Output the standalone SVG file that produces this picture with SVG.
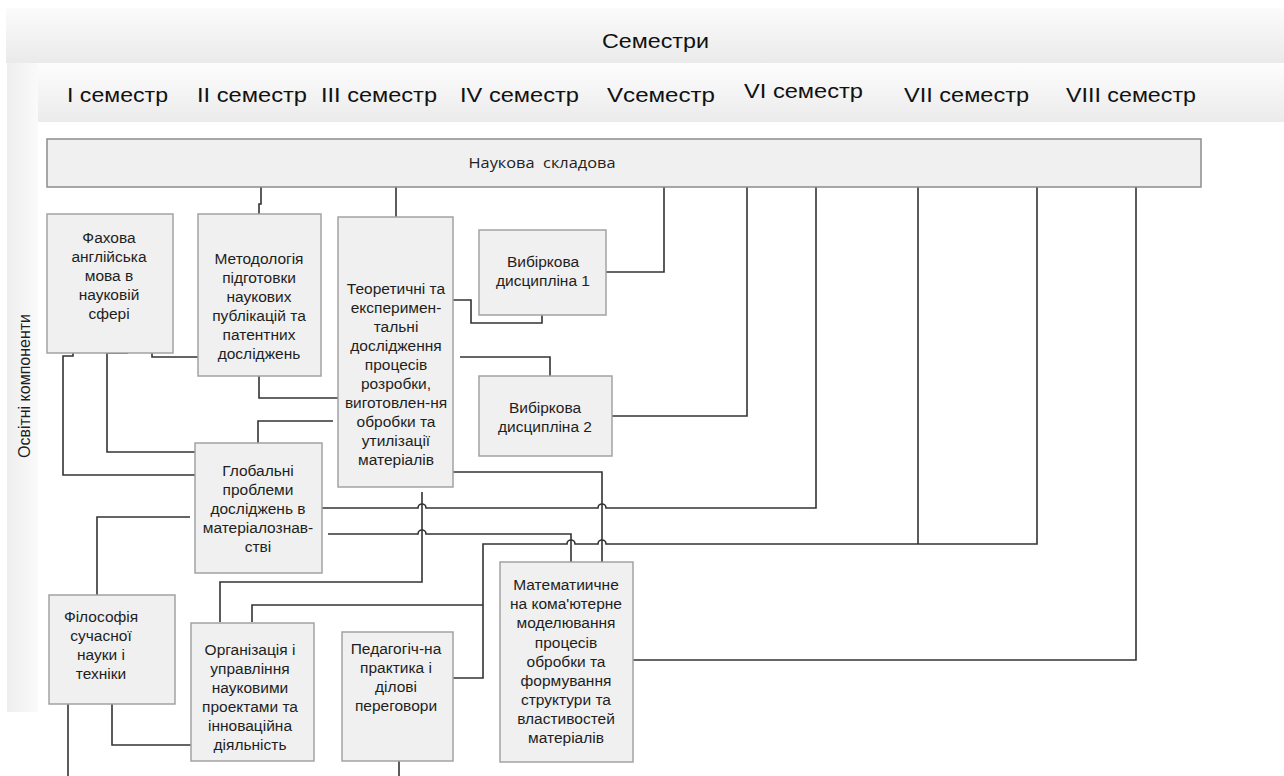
<svg xmlns="http://www.w3.org/2000/svg" width="1284" height="776" viewBox="0 0 1284 776">
<defs>
<linearGradient id="gTop" x1="0" y1="0" x2="0" y2="1"><stop offset="0" stop-color="#fbfbfb"/><stop offset="1" stop-color="#eaeaea"/></linearGradient>
<linearGradient id="gSem" x1="0" y1="0" x2="0" y2="1"><stop offset="0" stop-color="#fdfdfd"/><stop offset="1" stop-color="#ebebeb"/></linearGradient>
<linearGradient id="gLeft" x1="0" y1="0" x2="1" y2="0"><stop offset="0" stop-color="#eeeeee"/><stop offset="1" stop-color="#fafafa"/></linearGradient>
<style>
.box{fill:#f0f0f0;stroke:#a3a3a3;stroke-width:1.5}
.t{font-family:"Liberation Sans",Arial,sans-serif;font-size:15.5px;fill:#1e1e1e;text-anchor:middle}
.sem{font-family:"Liberation Sans",Arial,sans-serif;font-size:20px;fill:#111}
.c{fill:none;stroke:#333;stroke-width:1.6}
</style>
</defs>
<rect width="1284" height="776" fill="#fff"/>
<g id="header">
<rect x="6" y="8" width="1278" height="55" fill="url(#gTop)"/>
<text class="sem" x="602" y="48" textLength="107" lengthAdjust="spacingAndGlyphs">Семестри</text>
</g>
<g id="semesters">
<rect x="38" y="63" width="1246" height="59" fill="url(#gSem)"/>
<text class="sem" x="67" y="102" textLength="101" lengthAdjust="spacingAndGlyphs">I семестр</text>
<text class="sem" x="197" y="102" textLength="110" lengthAdjust="spacingAndGlyphs">II семестр</text>
<text class="sem" x="321" y="102" textLength="116" lengthAdjust="spacingAndGlyphs">III семестр</text>
<text class="sem" x="460" y="102" textLength="119" lengthAdjust="spacingAndGlyphs">IV семестр</text>
<text class="sem" x="607" y="102" textLength="108" lengthAdjust="spacingAndGlyphs">Vсеместр</text>
<text class="sem" x="744" y="98" textLength="119" lengthAdjust="spacingAndGlyphs">VI семестр</text>
<text class="sem" x="904" y="102" textLength="125" lengthAdjust="spacingAndGlyphs">VII семестр</text>
<text class="sem" x="1066" y="102" textLength="130" lengthAdjust="spacingAndGlyphs">VIII семестр</text>
</g>
<g id="components-label">
<rect x="7" y="63" width="31" height="649" fill="url(#gLeft)"/>
<text x="0" y="0" transform="translate(30 458) rotate(-90)" font-family="'Liberation Sans',Arial,sans-serif" font-size="16" fill="#1e1e1e" textLength="144" lengthAdjust="spacingAndGlyphs">Освітні компоненти</text>
</g>
<g id="connectors">
<path class="c" d="M261,187 V204 H259 V214"/>
<path class="c" d="M396,187 V217"/>
<path class="c" d="M664,187 V272 H606"/>
<path class="c" d="M747,187 V416 H612"/>
<path class="c" d="M322,508 H418 A4,4 0 0 1 426,508 H598 A4,4 0 0 1 606,508 H816 V187"/>
<path class="c" d="M453,678 H483 V544 H567 A4,4 0 0 1 575,544 H598 A4,4 0 0 1 606,544 H1037 V187"/>
<path class="c" d="M918,187 V544"/>
<path class="c" d="M252,622 V605 H483"/>
<path class="c" d="M633,660 H1136 V187"/>
<path class="c" d="M453,472 H602 V562"/>
<path class="c" d="M328,534 H418 A4,4 0 0 1 426,534 H571 V562"/>
<path class="c" d="M422,492 V582 H220 V622"/>
<path class="c" d="M453,300 H471 V323 H542 V315"/>
<path class="c" d="M460,357 H550 V376"/>
<path class="c" d="M152,353 V357 H198"/>
<path class="c" d="M73,353 V356 H63 V475 H195"/>
<path class="c" d="M128,353 H107 V452 H195"/>
<path class="c" d="M259,376 V398 H338"/>
<path class="c" d="M258,443 V421 H333"/>
<path class="c" d="M97,595 V517 H190"/>
<path class="c" d="M68,704 V776"/>
<path class="c" d="M112,704 V745 H191"/>
<path class="c" d="M399,761 V776"/>
</g>
<g id="n-sci">
<rect x="47" y="139" width="1154" height="48" fill="#f0f0f0" stroke="#8c8c8c" stroke-width="1.5"/>
<text x="542" y="168" text-anchor="middle" font-family="'Open Sans','Noto Sans',sans-serif" font-size="15" fill="#222" textLength="147" lengthAdjust="spacingAndGlyphs" xml:space="preserve">Наукова  складова</text>
</g>
<g id="n-fakh">
<rect class="box" x="47" y="214" width="126" height="139"/>
<text class="t"><tspan x="109" y="243">Фахова</tspan><tspan x="109" y="262">англійська</tspan><tspan x="109" y="281">мова в</tspan><tspan x="109" y="300">науковій</tspan><tspan x="109" y="319">сфері</tspan></text>
</g>
<g id="n-metod">
<rect class="box" x="198" y="214" width="123" height="162"/>
<text class="t"><tspan x="259" y="264">Методологія</tspan><tspan x="259" y="283">підготовки</tspan><tspan x="259" y="302">наукових</tspan><tspan x="259" y="321">публікацій та</tspan><tspan x="259" y="340">патентних</tspan><tspan x="259" y="359">досліджень</tspan></text>
</g>
<g id="n-teor">
<rect class="box" x="338" y="217" width="115" height="270"/>
<text class="t"><tspan x="396" y="294">Теоретичні та</tspan><tspan x="396" y="313">експеримен-</tspan><tspan x="396" y="332">тальні</tspan><tspan x="396" y="351">дослідження</tspan><tspan x="396" y="370">процесів</tspan><tspan x="396" y="389">розробки,</tspan><tspan x="396" y="408">виготовлен-ня</tspan><tspan x="396" y="427">обробки та</tspan><tspan x="396" y="446">утилізації</tspan><tspan x="396" y="465">матеріалів</tspan></text>
</g>
<g id="n-vyb1">
<rect class="box" x="479" y="230" width="127" height="85"/>
<text class="t"><tspan x="543" y="267">Вибіркова</tspan><tspan x="543" y="286">дисципліна 1</tspan></text>
</g>
<g id="n-vyb2">
<rect class="box" x="479" y="376" width="133" height="80"/>
<text class="t"><tspan x="545" y="413">Вибіркова</tspan><tspan x="545" y="432">дисципліна 2</tspan></text>
</g>
<g id="n-glob">
<rect class="box" x="195" y="443" width="127" height="130"/>
<text class="t"><tspan x="258" y="476">Глобальні</tspan><tspan x="258" y="495">проблеми</tspan><tspan x="258" y="514">досліджень в</tspan><tspan x="258" y="533">матеріалознав-</tspan><tspan x="258" y="552">стві</tspan></text>
</g>
<g id="n-filos">
<rect class="box" x="49" y="595" width="126" height="109"/>
<text class="t"><tspan x="101" y="622">Філософія</tspan><tspan x="101" y="641">сучасної</tspan><tspan x="101" y="660">науки і</tspan><tspan x="101" y="679">техніки</tspan></text>
</g>
<g id="n-org">
<rect class="box" x="191" y="623" width="123" height="138"/>
<text class="t"><tspan x="250" y="655">Організація і</tspan><tspan x="250" y="674">управління</tspan><tspan x="250" y="693">науковими</tspan><tspan x="250" y="712">проектами та</tspan><tspan x="250" y="731">інноваційна</tspan><tspan x="250" y="750">діяльність</tspan></text>
</g>
<g id="n-ped">
<rect class="box" x="342" y="632" width="111" height="129"/>
<text class="t"><tspan x="396" y="654">Педагогіч-на</tspan><tspan x="396" y="673">практика і</tspan><tspan x="396" y="692">ділові</tspan><tspan x="396" y="711">переговори</tspan></text>
</g>
<g id="n-math">
<rect class="box" x="500" y="562" width="133" height="200"/>
<text class="t"><tspan x="566" y="590">Математиичне</tspan><tspan x="566" y="609">на кома'ютерне</tspan><tspan x="566" y="628">моделювання</tspan><tspan x="566" y="648">процесів</tspan><tspan x="566" y="667">обробки та</tspan><tspan x="566" y="686">формування</tspan><tspan x="566" y="705">структури та</tspan><tspan x="566" y="724">властивостей</tspan><tspan x="566" y="743">матеріалів</tspan></text>
</g>
</svg>
